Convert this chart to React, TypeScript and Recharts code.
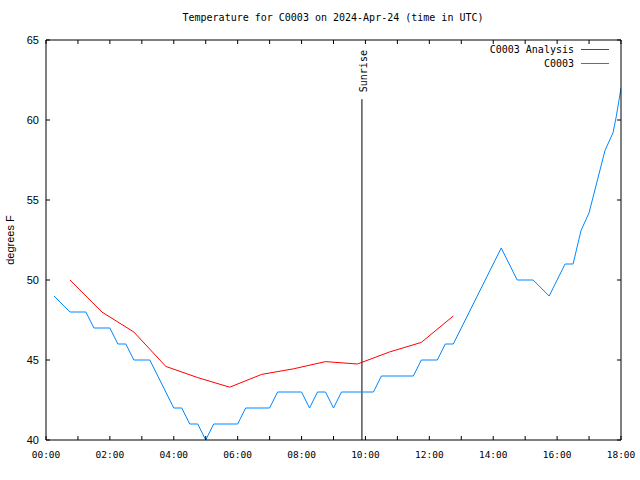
import { LineChart, Line, XAxis, YAxis, ReferenceLine, ReferenceDot } from "recharts";

// observed temperature (hours since 00:00 UTC, °F)
const obsHours = [
  0.25, 0.75, 1.25, 1.5, 2.0, 2.25, 2.5, 2.75, 3.25, 4.0, 4.25, 4.5, 4.75, 5.0, 5.25, 6.0, 6.25,
  7.0, 7.25, 8.0, 8.25, 8.5, 8.75, 9.0, 9.25, 10.25, 10.5, 11.5, 11.75, 12.25, 12.5, 12.75,
  14.25, 14.75, 15.25, 15.75, 16.25, 16.5, 16.75, 17.0, 17.5, 17.75, 17.85, 18.0,
];
const obsTemps = [
  49, 48, 48, 47, 47, 46, 46, 45, 45, 42, 42, 41, 41, 40, 41, 41, 42,
  42, 43, 43, 42, 43, 43, 42, 43, 43, 44, 44, 45, 45, 46, 46,
  52, 50, 50, 49, 51, 51, 53.1, 54.2, 58.1, 59.2, 60.2, 62,
];

// analysis temperature
const analysisHours = [0.75, 1.75, 2.75, 3.75, 4.75, 5.75, 6.75, 7.75, 8.75, 9.75, 10.75, 11.75, 12.75];
const analysisTemps = [50, 48, 46.75, 44.6, 43.9, 43.3, 44.1, 44.45, 44.9, 44.75, 45.5, 46.1, 47.75];

const hourTicks = Array.from({ length: 19 }, (_, i) => i);
const yTicks = [40, 45, 50, 55, 60, 65];
const sunriseHour = 9.89;
const sunriseTop = 61.3;

const obsData = obsHours.map((t, i) => ({ t, temp: obsTemps[i] }));
const analysisData = analysisHours.map((t, i) => ({ t, temp: analysisTemps[i] }));

const series = [
  { name: "C0003 Analysis", color: "#ff0000" },
  { name: "C0003", color: "#0088ff" },
];

const mono = "'DejaVu Sans Mono', monospace";
const sans = "'Liberation Sans', Arial, sans-serif";

const pad = (n: number) => String(n).padStart(2, "0");

function BottomTick(props: any) {
  const { x, y, payload } = props;
  const h = payload.value;
  return (
    <g>
      <line x1={x} y1={y} x2={x} y2={y - 4} stroke="#000" />
      {h % 2 === 0 && (
        <text x={x} y={y + 18} textAnchor="middle" fontSize={9.5} fontFamily={mono} fill="#000">
          {pad(h)}:00
        </text>
      )}
    </g>
  );
}

function TopTick(props: any) {
  const { x, y } = props;
  return <line x1={x} y1={y} x2={x} y2={y + 4} stroke="#000" />;
}

function LeftTick(props: any) {
  const { x, y, payload } = props;
  return (
    <g>
      <line x1={x} y1={y} x2={x + 4} y2={y} stroke="#000" />
      <text x={x - 7} y={y + 4} textAnchor="end" fontSize={11} fontFamily={sans} fill="#000">
        {payload.value}
      </text>
    </g>
  );
}

function RightTick(props: any) {
  const { x, y } = props;
  return <line x1={x} y1={y} x2={x - 4} y2={y} stroke="#000" />;
}

function SunriseLabel(props: any) {
  const { cx, cy } = props;
  const x = cx + 2;
  const y = cy - 7;
  return (
    <text
      x={x}
      y={y}
      transform={`rotate(-90 ${x} ${y})`}
      dominantBaseline="central"
      fontSize={10}
      fontFamily={mono}
      fill="#000"
    >
      Sunrise
    </text>
  );
}

export default function App() {
  return (
    <div style={{ position: "absolute", left: 0, top: 0, width: 640, height: 480, background: "#fff" }}>
      <div
        style={{
          position: "absolute",
          top: 12,
          left: 0,
          width: 666,
          textAlign: "center",
          fontFamily: mono,
          fontSize: 10,
        }}
      >
        Temperature for C0003 on 2024-Apr-24 (time in UTC)
      </div>
      <div
        style={{
          position: "absolute",
          left: 10,
          top: 240,
          transform: "translate(-50%, -50%) rotate(-90deg)",
          fontFamily: sans,
          fontSize: 11,
          whiteSpace: "nowrap",
        }}
      >
        degrees F
      </div>
      <div style={{ position: "absolute", top: 42, right: 31, fontFamily: mono, fontSize: 10, zIndex: 2 }}>
        {series.map((s) => (
          <div key={s.name} style={{ display: "flex", alignItems: "center", justifyContent: "flex-end", height: 14 }}>
            <span>{s.name}</span>
            <svg width={35} height={14} style={{ display: "block" }}>
              <line x1={7} y1={7.5} x2={35} y2={7.5} stroke={s.color} strokeWidth={1} />
            </svg>
          </div>
        ))}
      </div>
      <LineChart width={640} height={480} margin={{ top: 39, right: 18, bottom: 10, left: 0 }}>
        <XAxis
          xAxisId="b"
          type="number"
          dataKey="t"
          domain={[0, 18]}
          ticks={hourTicks}
          interval={0}
          tick={BottomTick}
          tickLine={false}
          tickSize={0}
          tickMargin={0}
          axisLine={{ stroke: "#000" }}
          height={30}
          allowDataOverflow
        />
        <XAxis
          xAxisId="top"
          orientation="top"
          type="number"
          dataKey="t"
          domain={[0, 18]}
          ticks={hourTicks}
          interval={0}
          tick={TopTick}
          tickLine={false}
          tickSize={0}
          tickMargin={0}
          axisLine={{ stroke: "#000" }}
          height={1}
          allowDataOverflow
        />
        <YAxis
          yAxisId="l"
          type="number"
          domain={[40, 65]}
          ticks={yTicks}
          interval={0}
          tick={LeftTick}
          tickLine={false}
          tickSize={0}
          tickMargin={0}
          axisLine={{ stroke: "#000" }}
          width={46}
          allowDataOverflow
        />
        <YAxis
          yAxisId="r"
          orientation="right"
          type="number"
          domain={[40, 65]}
          ticks={yTicks}
          interval={0}
          tick={RightTick}
          tickLine={false}
          tickSize={0}
          tickMargin={0}
          axisLine={{ stroke: "#000" }}
          width={1}
          allowDataOverflow
        />
        {/* invisible copy so the mirrored top/right axes get drawn */}
        <Line
          xAxisId="top"
          yAxisId="r"
          data={obsData}
          dataKey="temp"
          stroke="none"
          dot={false}
          activeDot={false}
          legendType="none"
          isAnimationActive={false}
        />
        <ReferenceLine
          xAxisId="b"
          yAxisId="l"
          segment={[
            { x: sunriseHour, y: 40 },
            { x: sunriseHour, y: sunriseTop },
          ]}
          stroke="#000"
          strokeWidth={1}
        />
        <ReferenceDot xAxisId="b" yAxisId="l" x={sunriseHour} y={sunriseTop} r={0} shape={SunriseLabel} />
        <Line
          xAxisId="b"
          yAxisId="l"
          data={analysisData}
          dataKey="temp"
          name={series[0].name}
          type="linear"
          stroke={series[0].color}
          strokeWidth={1}
          dot={false}
          isAnimationActive={false}
        />
        <Line
          xAxisId="b"
          yAxisId="l"
          data={obsData}
          dataKey="temp"
          name={series[1].name}
          type="linear"
          stroke={series[1].color}
          strokeWidth={1}
          dot={false}
          isAnimationActive={false}
        />
      </LineChart>
    </div>
  );
}
